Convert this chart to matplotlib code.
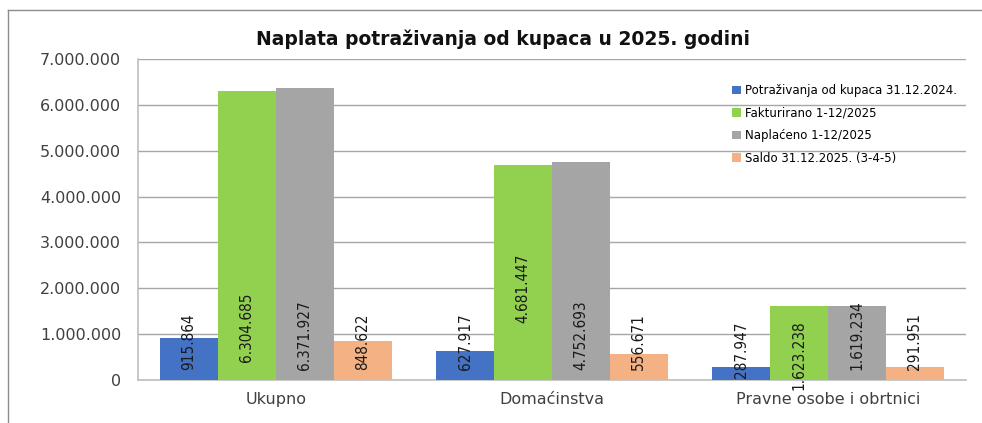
import matplotlib
matplotlib.use("Agg")
import matplotlib.pyplot as plt
from matplotlib.lines import Line2D
from matplotlib.ticker import FuncFormatter, MultipleLocator
import numpy as np

categories = ["Ukupno", "Domaćinstva", "Pravne osobe i obrtnici"]
series_names = ["Potraživanja od kupaca 31.12.2024.", "Fakturirano 1-12/2025",
                "Naplaćeno 1-12/2025", "Saldo 31.12.2025. (3-4-5)"]
potrazivanja = [915864, 627917, 287947]
fakturirano = [6304685, 4681447, 1623238]
naplaceno = [6371927, 4752693, 1619234]
saldo = [848622, 556671, 291951]
series = [potrazivanja, fakturirano, naplaceno, saldo]
colors = ["#4472C4", "#92D050", "#A5A5A5", "#F4B183"]

# where each value label starts (data units), as placed in the original
label_base = [
    [220000, 220000, 40000],
    [390000, 1240000, -220000],
    [220000, 220000, 220000],
    [220000, 220000, 220000],
]


def dots(v, pos=None):
    return f"{int(v):,}".replace(",", ".")


plt.rcParams['font.family'] = ['DejaVu Sans']

fig = plt.figure(figsize=(9.82, 4.23), dpi=100)
ax = fig.add_axes([0.1405, 0.1017, 0.8432, 0.7588])

x = np.arange(len(categories))
w = 0.21
for i, (vals, name, c) in enumerate(zip(series, series_names, colors)):
    xs = x + (i - 1.5) * w
    ax.bar(xs, vals, width=w, color=c, label=name, zorder=3)
    for xi, v, b in zip(xs, vals, label_base[i]):
        ax.text(xi, b, dots(v), rotation=90, ha="center", va="bottom",
                fontsize=11, color="#1a1a1a", fontstretch="condensed", zorder=4)

ax.set_xlim(-0.5, 2.5)
ax.set_ylim(0, 7000000)
ax.yaxis.set_major_locator(MultipleLocator(1000000))
ax.yaxis.set_major_formatter(FuncFormatter(dots))
ax.set_xticks(x)
ax.set_xticklabels(categories)
ax.tick_params(axis="both", length=0, labelsize=11.5, labelcolor="#404040")
ax.tick_params(axis="y", pad=12)
ax.tick_params(axis="x", pad=9)
ax.grid(axis="y", color="#a6a6a6", lw=1, zorder=0)
for s in ["top", "right"]:
    ax.spines[s].set_visible(False)
for s in ["left", "bottom"]:
    ax.spines[s].set_color("#bfbfbf")
    ax.spines[s].set_linewidth(1.2)

fig.text(0.512, 0.907, "Naplata potraživanja od kupaca u 2025. godini",
         ha="center", va="center", fontsize=13.5, fontweight="bold", color="#111111")

ax.legend(loc="upper left", bbox_to_anchor=(0.741, 0.812), bbox_transform=fig.transFigure,
          frameon=False, fontsize=8.5, handlelength=0.7, handleheight=0.7,
          handletextpad=0.4, labelspacing=0.8, borderaxespad=0)

# outer chart border (only left and top edges are visible in the crop)
fig.add_artist(Line2D([0.008, 0.008], [0.0, 0.976], transform=fig.transFigure,
                      color="#8c8c8c", lw=1))
fig.add_artist(Line2D([0.008, 1.0], [0.976, 0.976], transform=fig.transFigure,
                      color="#8c8c8c", lw=1))

fig.savefig("out.png", dpi=100)
